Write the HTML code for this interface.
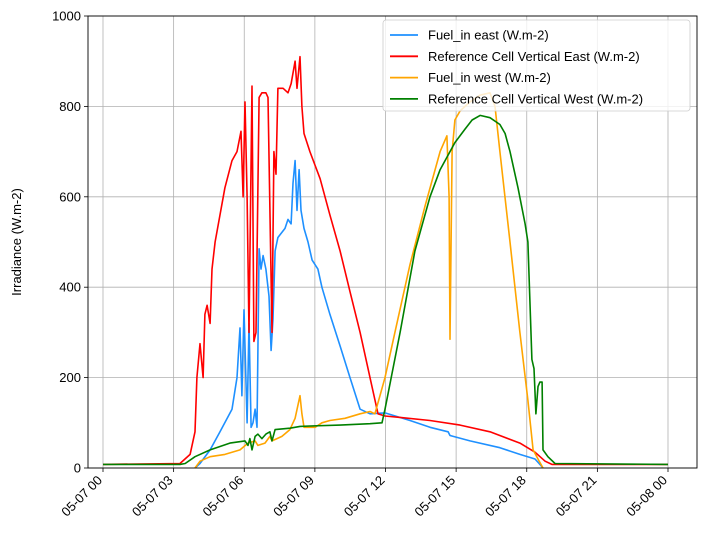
<!DOCTYPE html>
<html><head><meta charset="utf-8">
<style>
body{margin:0;background:#fff;}
svg{font-family:"Liberation Sans","DejaVu Sans",sans-serif;}
</style></head>
<body>
<svg id="chart" width="704" height="542" viewBox="0 0 704 542" xmlns="http://www.w3.org/2000/svg"></svg>
<script>
const xTickLabels=["05-07 00","05-07 03","05-07 06","05-07 09","05-07 12","05-07 15","05-07 18","05-07 21","05-08 00"];
const xTickHours=[0,3,6,9,12,15,18,21,24];
const yTicks=[0,200,400,600,800,1000];
const seriesNames=["Fuel_in east (W.m-2)","Reference Cell Vertical East (W.m-2)","Fuel_in west (W.m-2)","Reference Cell Vertical West (W.m-2)"];
const seriesColors=["#1e90ff","#ff0000","#ffa500","#008000"];
const fuelEastH=[3.91,4.12,4.55,4.97,5.48,5.69,5.82,5.90,5.99,6.12,6.20,6.29,6.37,6.46,6.54,6.63,6.71,6.80,6.92,7.05,7.14,7.22,7.31,7.43,7.73,7.86,7.99,8.07,8.16,8.24,8.33,8.41,8.54,8.71,8.88,9.13,9.30,9.64,10.07,10.49,10.92,11.34,11.98,13.04,13.89,14.66,14.74,15.59,16.86,17.71,18.35,18.61,18.69];
const fuelEastV=[0,10,40,80,130,200,310,160,350,100,320,90,100,130,90,485,440,470,440,380,260,330,480,510,530,550,540,630,680,570,660,570,530,500,460,440,400,340,270,200,130,120,122,105,90,80,72,60,45,30,20,5,0];
const refEastH=[0,3.27,3.70,3.91,3.99,4.12,4.25,4.33,4.42,4.55,4.63,4.76,4.97,5.18,5.48,5.69,5.86,5.95,6.03,6.12,6.20,6.33,6.41,6.50,6.63,6.75,6.92,7.01,7.18,7.26,7.35,7.43,7.65,7.86,7.99,8.16,8.24,8.37,8.45,8.54,8.79,9.22,9.64,10.07,10.49,10.92,11.34,11.68,11.98,12.62,13.89,15.17,16.44,17.71,18.35,18.78,19.07,24];
const refEastV=[8,10,30,80,200,275,200,340,360,320,440,500,560,620,680,700,745,600,810,600,300,845,280,300,820,830,830,820,300,700,650,840,840,830,850,900,840,910,800,740,700,640,560,480,390,300,200,120,115,112,105,95,80,55,35,15,8,8];
const fuelWestH=[3.91,4.12,4.55,5.18,5.82,6.16,6.46,6.58,6.88,7.09,7.18,7.39,7.60,7.94,8.16,8.37,8.45,8.54,9.01,9.30,9.64,10.28,10.92,11.34,11.55,11.98,12.40,13.04,13.68,14.32,14.61,14.70,14.74,14.83,14.95,15.17,15.59,16.02,16.44,16.65,16.86,17.29,17.71,18.05,18.27,18.48,18.69];
const fuelWestV=[0,15,25,30,40,55,60,50,55,70,60,65,70,85,110,160,120,90,90,100,105,110,120,125,120,200,300,450,580,700,735,600,285,700,770,790,810,825,830,800,700,500,300,150,40,20,0];
const refWestH=[0,3.27,3.49,3.91,4.55,5.39,6.03,6.16,6.24,6.33,6.46,6.58,6.75,6.92,7.09,7.18,7.31,7.94,8.37,8.79,10.07,11.34,11.85,11.98,12.62,13.25,13.89,14.32,14.95,15.38,15.68,16.02,16.44,16.86,17.08,17.29,17.63,17.93,18.05,18.22,18.31,18.39,18.48,18.56,18.65,18.69,18.90,19.20,24];
const refWestV=[8,8,10,25,40,55,60,50,65,40,70,75,65,75,80,60,85,88,92,93,95,98,100,130,300,480,600,660,720,750,770,780,775,760,740,700,620,540,500,240,220,120,180,190,190,40,25,10,8];

const NS="http://www.w3.org/2000/svg";
const svg=document.getElementById('chart');
const L=88,R=697,T=16,B=468;
const X0=103,X24=668;
function xs(h){return X0+(X24-X0)*h/24;}
function ys(v){return B-(B-T)*v/1000;}
function mk(tag,attrs,parent){const e=document.createElementNS(NS,tag);for(const k in attrs)e.setAttribute(k,attrs[k]);(parent||svg).appendChild(e);return e;}

const grid=mk('g',{});


xTickHours.forEach((h,i)=>{
  const ln=mk('line',{x1:xs(h),x2:xs(h),y1:T,y2:B,stroke:'#b0b0b0','stroke-width':0.8},grid);
  
  
  const tk=mk('line',{x1:xs(h),x2:xs(h),y1:B,y2:B+4,stroke:'#000','stroke-width':0.8});
  
  
  const t=mk('text',{x:0,y:0,'font-size':13,'text-anchor':'end',transform:`translate(${xs(h)},${B+13}) rotate(-45)`});
  t.textContent=xTickLabels[i];
  
  
});
yTicks.forEach(v=>{
  const ln=mk('line',{x1:L,x2:R,y1:ys(v),y2:ys(v),stroke:'#b0b0b0','stroke-width':0.8},grid);
  
  
  const tk=mk('line',{x1:L-4,x2:L,y1:ys(v),y2:ys(v),stroke:'#000','stroke-width':0.8});
  
  
  const t=mk('text',{x:L-7,y:ys(v)+4.5,'font-size':13,'text-anchor':'end'});
  t.textContent=v;
  
  
});
const yt=mk('text',{x:0,y:0,'font-size':13,'text-anchor':'middle',transform:`translate(21,${(T+B)/2}) rotate(-90)`});
yt.textContent="Irradiance (W.m-2)";



const allH=[fuelEastH,refEastH,fuelWestH,refWestH];
const allV=[fuelEastV,refEastV,fuelWestV,refWestV];
const slugs=['fuel-in-east-line','ref-cell-east-line','fuel-in-west-line','ref-cell-west-line'];
allH.forEach((H,i)=>{
  const d=H.map((h,j)=>(j?'L':'M')+xs(h).toFixed(1)+','+ys(allV[i][j]).toFixed(1)).join(' ');
  const p=mk('path',{d:d,fill:'none',stroke:seriesColors[i],'stroke-width':1.6,'stroke-linejoin':'round'});
  
  
});

const frame=mk('rect',{x:L,y:T,width:R-L,height:B-T,fill:'none',stroke:'#000','stroke-width':0.9});



const lg=mk('g',{});


mk('rect',{x:383,y:20,width:307,height:91,rx:3,fill:'#fff','fill-opacity':0.8,stroke:'#ccc','stroke-width':0.8},lg);
seriesNames.forEach((n,i)=>{
  const y=35+i*21.3;
  const ln=mk('line',{x1:390,x2:418,y1:y,y2:y,stroke:seriesColors[i],'stroke-width':1.8},lg);
  
  
  const t=mk('text',{x:428,y:y+4.5,'font-size':13},lg);
  t.textContent=n;
  
  
});
</script>
</body></html>
